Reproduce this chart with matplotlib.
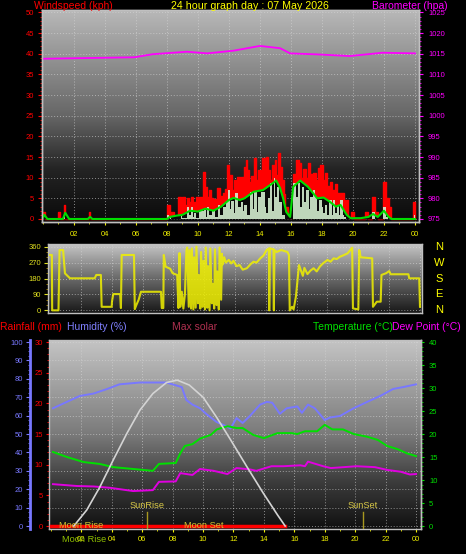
import numpy as np
import matplotlib
matplotlib.use('Agg')
import matplotlib.pyplot as plt
import matplotlib.transforms as mtransforms
from matplotlib.colors import LinearSegmentedColormap
from matplotlib.ticker import MultipleLocator

plt.rcParams['font.family'] = ['Liberation Sans', 'DejaVu Sans']

# ---------------- data ----------------
hour_ticks = [2, 4, 6, 8, 10, 12, 14, 16, 18, 20, 22, 24]
hour_labels = ['02', '04', '06', '08', '10', '12', '14', '16', '18', '20', '22', '00']

# wind gust (kph), step values: (start hour, value)
gust = [(0.0, 1.8), (0.15, 0), (1.0, 1.8), (1.1, 0), (1.35, 3.4), (1.45, 0), (2.95, 1.8), (3.05, 0),
        (8.0, 3.4), (8.2, 0.8), (8.3, 1.8), (8.45, 0.5), (8.7, 5.4), (8.9, 3.0), (9.0, 5.4), (9.15, 3.5),
        (9.3, 5.2), (9.45, 4.0), (9.55, 5.4), (9.7, 4.0), (9.9, 5.4), (10.0, 3.0), (10.1, 5.4), (10.25, 4.5),
        (10.35, 11.3), (10.45, 7.0), (10.5, 7.8), (10.6, 5.4), (10.7, 7.0), (10.85, 5.0), (11.0, 4.8),
        (11.15, 3.5), (11.25, 7.4), (11.45, 5.5), (11.6, 6.2), (11.75, 7.3), (11.9, 13.1), (12.0, 8.2),
        (12.1, 10.6), (12.2, 7.0), (12.3, 9.4), (12.45, 6.5), (12.55, 10.2), (12.7, 8.0), (12.8, 10.2),
        (12.95, 12.7), (13.1, 14.3), (13.2, 11.9), (13.3, 9.0), (13.45, 10.5), (13.6, 14.7), (13.75, 9.5),
        (13.85, 11.9), (14.05, 8.5), (14.15, 14.7), (14.3, 12.0), (14.4, 15.0), (14.5, 11.9), (14.65, 9.5),
        (14.8, 13.1), (14.95, 14.3), (15.05, 10.7), (15.2, 16.0), (15.3, 12.7), (15.4, 9.4), (15.55, 6.0),
        (15.65, 3.0), (15.8, 0.3), (16.15, 11.0), (16.3, 14.3), (16.5, 13.5), (16.65, 10.0), (16.8, 12.0),
        (16.95, 10.0), (17.1, 13.5), (17.25, 11.0), (17.4, 11.1), (17.6, 9.5), (17.75, 12.3), (17.9, 13.0),
        (18.05, 9.4), (18.2, 11.2), (18.35, 8.0), (18.45, 6.3), (18.55, 9.0), (18.65, 7.0), (18.85, 8.4),
        (19.0, 6.2), (19.4, 3.0), (19.5, 4.6), (19.7, 0.2), (19.9, 1.8), (20.1, 0), (20.8, 1.8), (21.0, 0),
        (21.2, 5.4), (21.4, 1.8), (21.6, 0), (21.95, 9.0), (22.15, 5.0), (22.3, 3.0), (22.45, 0),
        (23.9, 4.0), (24.0, 0)]

# wind speed (kph), step values
speed = [(0.0, 0), (1.35, 1.0), (1.45, 0), (8.0, 0.9), (8.15, 0), (8.2, 0.6), (8.3, 0), (8.9, 1.2),
         (9.0, 0.3), (9.3, 3.0), (9.45, 1.0), (9.55, 3.0), (9.7, 0.5), (9.75, 1.4), (9.9, 0.3), (10.1, 2.0),
         (10.4, 2.2), (10.5, 0.5), (10.6, 3.0), (10.75, 1.0), (10.9, 2.0), (11.1, 0.5), (11.3, 3.4),
         (11.45, 1.0), (11.6, 3.0), (11.8, 4.2), (11.95, 7.0), (12.05, 2.5), (12.15, 4.4), (12.3, 1.5),
         (12.4, 6.3), (12.6, 3.0), (12.75, 4.2), (12.9, 2.0), (13.0, 3.4), (13.2, 1.0), (13.35, 6.6),
         (13.55, 2.5), (13.65, 6.6), (13.8, 1.7), (13.9, 5.4), (14.05, 0.5), (14.1, 6.6), (14.3, 3.0),
         (14.4, 1.5), (14.5, 5.0), (14.65, 8.6), (14.8, 2.0), (14.9, 10.0), (15.0, 5.4), (15.1, 7.8),
         (15.25, 4.2), (15.45, 1.0), (15.6, 0), (16.15, 8.6), (16.35, 5.4), (16.45, 8.7), (16.6, 3.0),
         (16.7, 7.8), (16.85, 4.0), (16.95, 7.0), (17.15, 2.5), (17.25, 5.4), (17.45, 7.0), (17.55, 5.4),
         (17.7, 2.0), (17.8, 4.6), (18.0, 3.0), (18.1, 1.5), (18.2, 3.4), (18.35, 1.0), (18.45, 4.6),
         (18.65, 1.0), (18.7, 4.6), (18.85, 1.5), (18.95, 3.4), (19.1, 1.0), (19.15, 4.6), (19.35, 1.0),
         (19.45, 0.5), (19.55, 0), (21.25, 1.8), (21.4, 0), (21.95, 3.0), (22.15, 0.5), (22.25, 0),
         (23.95, 1.0), (24.0, 0)]

# average wind speed (kph)
avg_hours = [0, 0.1, 0.3, 1.3, 1.45, 1.7, 2.9, 3.05, 3.2, 8.0, 8.2, 8.6, 9.0, 9.5, 10.0, 10.5, 11.0,
             11.5, 12.0, 12.3, 12.7, 13.0, 13.6, 14.2, 14.8, 15.05, 15.3, 15.5, 15.7, 15.95, 16.15, 16.6,
             17.1, 17.7, 18.1, 18.5, 18.9, 19.2, 19.6, 19.85, 20.5, 21.0, 21.3, 21.6, 22.0, 22.3, 22.5, 24.0]
avg_speed = [0.3, 1.0, 0, 0, 1.5, 0, 0, 0.5, 0, 0, 0.5, 0.8, 1.0, 2.0, 1.8, 2.5, 2.0, 3.0, 4.6, 5.1,
             4.6, 5.0, 6.6, 7.0, 8.6, 9.3, 7.5, 5.0, 1.7, 0.5, 7.8, 9.3, 7.8, 5.0, 5.2, 4.2, 3.0, 3.4,
             1.0, 0.2, 0.2, 0.5, 1.2, 0.5, 2.0, 0.5, 0, 0]

# barometer (hPa)
baro_hours = [0.07, 5.9, 7.1, 9.3, 10.6, 12.3, 14.0, 15.3, 15.95, 17.7, 19.8, 21.9, 24.0]
baro = [1013.8, 1014.15, 1014.9, 1015.5, 1015.1, 1015.75, 1016.9, 1016.35, 1015.1, 1014.85,
        1014.45, 1015.25, 1015.1]

# wind direction (deg): (hour, direction)
wind_dir = [(0.0, 313), (0.12, 313), (0.14, 0), (0.55, 0), (0.62, 341), (0.85, 341), (0.97, 209),
            (1.3, 181), (2.9, 181), (3.0, 200), (3.3, 200), (3.35, 20), (4.0, 20), (4.02, 49),
            (4.1, 92), (4.55, 92), (4.6, 13), (4.65, 313), (5.45, 313), (5.5, 7), (5.6, 30), (5.75, 60),
            (5.9, 105), (7.2, 105), (7.25, 13), (7.35, 13), (7.38, 313), (7.5, 247), (7.8, 235),
            (7.95, 210), (8.25, 200), (8.33, 13), (8.4, 324), (8.45, 20), (8.55, 105), (8.65, 10),
            (8.75, 90), (8.85, 340), (8.9, 355), (9.0, 20), (9.05, 340), (9.15, 10), (9.2, 350),
            (9.3, 5), (9.35, 300), (9.45, 15), (9.5, 360), (9.6, 40), (9.65, 200), (9.75, 10),
            (9.8, 330), (9.9, 20), (9.95, 280), (10.05, 5), (10.1, 355), (10.2, 15), (10.25, 250),
            (10.35, 0), (10.4, 350), (10.5, 40), (10.55, 150), (10.65, 10), (10.7, 345), (10.8, 30),
            (10.85, 220), (10.95, 5), (11.0, 355), (11.1, 60), (11.15, 320), (11.2, 260),
            (11.3, 300), (11.4, 270), (11.6, 285), (11.75, 265), (11.9, 280), (12.1, 250), (12.3, 256),
            (12.5, 230), (12.77, 238), (13.0, 260), (13.2, 275), (13.4, 270), (13.64, 294),
            (13.85, 310), (14.05, 341), (14.2, 350), (14.22, 0), (14.26, 350), (14.5, 345), (14.52, 0),
            (14.56, 340), (14.7, 330), (15.0, 341), (15.4, 330), (15.5, 313), (15.55, 0), (15.7, 20),
            (15.8, 5), (15.95, 77), (16.15, 256), (16.3, 220), (16.4, 195), (16.5, 240), (16.7, 205),
            (16.9, 225), (17.1, 238), (17.3, 220), (17.5, 247), (17.7, 265), (18.0, 285), (18.2, 275),
            (18.4, 294), (18.6, 290), (18.8, 303), (19.0, 310), (19.3, 322), (19.6, 354), (19.65, 11),
            (20.0, 5), (20.06, 341), (20.15, 300), (20.9, 294), (20.95, 20), (21.2, 49), (21.45, 49),
            (21.5, 200), (21.8, 210), (22.0, 222), (22.1, 204), (23.25, 204), (23.3, 181),
            (23.95, 181), (24.0, 20)]
compass = ['N', 'W', 'S', 'E', 'N']
compass_deg = [360, 270, 180, 90, 0]

# rainfall (mm)
rain_hours = [0.0, 15.4]
rain = [0.0, 0.0]

# max solar (W/m2)
solar_hours = [1.5, 2.35, 3.2, 4.1, 5.0, 5.85, 6.7, 7.6, 8.3, 9.1, 10.0, 10.9, 11.8, 12.9, 13.95, 14.9, 15.4]
max_solar = [0, 87, 210, 360, 505, 630, 720, 780, 793, 766, 700, 590, 470, 320, 180, 60, 0]

# humidity (%)
hum_hours = [0.13, 1.05, 1.9, 2.8, 3.7, 4.5, 5.85, 7.6, 8.0, 8.6, 8.9, 9.3, 9.8, 10.2, 10.9, 11.6,
             11.8, 12.2, 12.6, 13.1, 13.75, 14.2, 14.55, 15.05, 15.5, 16.2, 16.5, 16.9, 17.35, 18.0,
             18.35, 19.0, 19.9, 20.8, 21.65, 22.5, 23.15, 24.0]
humidity = [64, 67.5, 70.7, 72, 74.5, 77, 78, 78, 77, 75.5, 68.5, 66, 64, 61, 56.5, 54, 53, 58.7, 56,
            60, 66, 67.5, 67, 61, 64, 65, 61.5, 66, 64, 57.6, 59, 59.8, 64, 67.5, 70.7, 74.5, 75.5, 77]

# temperature (C)
temp_hours = [0.13, 1.05, 2.15, 3.2, 4.1, 5.4, 6.7, 7.1, 8.2, 8.5, 8.8, 9.3, 9.8, 10.5, 10.9, 11.6,
              12.2, 12.6, 13.3, 14.0, 14.9, 15.8, 16.2, 16.7, 17.5, 18.0, 18.5, 19.2, 19.9, 20.8, 21.5,
              22.1, 22.8, 23.4, 24.0]
temperature = [16.1, 15, 13.9, 13.5, 12.8, 12.4, 12, 13.5, 13.7, 15.8, 17.4, 17.8, 19, 19.8, 21, 21.7,
               21.3, 21.3, 19.8, 19.1, 20.2, 20.2, 20, 20.6, 20.6, 22, 21, 21, 20, 19.4, 18.7, 17.4,
               16.7, 15.8, 15.2]

# dew point (C)
dew_hours = [0.13, 1.7, 2.8, 3.9, 5.4, 6.7, 7.1, 8.2, 8.5, 9.3, 9.8, 10.7, 11.6, 12.2, 13.1, 13.5,
             14.5, 15.3, 16.4, 16.7, 16.9, 17.9, 18.4, 20.1, 21.3, 22.1, 23.0, 23.6, 24.0]
dew_point = [9.1, 8.7, 8.6, 8.3, 7.6, 7.8, 9.6, 9.7, 11.5, 11.1, 12.4, 12, 11.3, 12.6, 12.3, 12, 13,
             13, 13.2, 13, 14, 13, 12.6, 13, 12.8, 12.2, 11.8, 11.2, 11.3]

# sun / moon events (hour)
sunrise, sunset = 6.3, 20.5
moonrise, moonset = 0.55, 8.75

# ---------------- figure ----------------
W, H = 466, 554
fig = plt.figure(figsize=(W / 100, H / 100), dpi=100, facecolor='black')


def box(left, top, right, bottom):
    return [left / W, 1 - bottom / H, (right - left) / W, (bottom - top) / H]


def shade(ax, stops):
    cmap = LinearSegmentedColormap.from_list('bg', stops)
    ax.imshow(np.linspace(0, 1, 256).reshape(-1, 1), cmap=cmap, origin='lower',
              extent=(0, 1, 0, 1), transform=ax.transAxes, aspect='auto', zorder=0)


def spines(ax, color='#c0c0c0', hide=()):
    for k, s in ax.spines.items():
        s.set_color(color)
        s.set_linewidth(1)
        if k in hide:
            s.set_visible(False)


def grid(ax):
    ax.set_axisbelow(True)
    ax.grid(True, which='major', color='#d8d8d8', linestyle=(0, (1, 2)), linewidth=0.7, alpha=0.6)


YEL = '#f0f000'
small = 5.5

# ---- panel 1 : wind + barometer ----
ax1 = fig.add_axes(box(42, 10, 419, 222))
shade(ax1, [(0, '#0a0a0a'), (0.25, '#242424'), (0.5, '#666666'), (1, '#b8b8b8')])
gh, gv = zip(*gust)
sh, sv = zip(*speed)
ax1.fill_between(gh, gv, step='post', color='#ff0000', lw=0, zorder=2)
ax1.step(gh, gv, where='post', color='#ff0000', lw=1, zorder=2)
ax1.fill_between(avg_hours, avg_speed, color='#0a0a0a', lw=0, zorder=2.5)
ax1.fill_between(sh, sv, step='post', color='#d4eed0', lw=0, alpha=0.9, zorder=3)
ax1.plot(avg_hours, avg_speed, color='#00dd00', lw=1.5, zorder=4)
ax1.set_xlim(-0.05, 24.26)
ax1.set_ylim(-0.73, 50.6)
ax1.xaxis.set_major_locator(plt.FixedLocator(hour_ticks))
ax1.set_xticklabels(hour_labels)
ax1.xaxis.set_minor_locator(MultipleLocator(1))
ax1.yaxis.set_major_locator(MultipleLocator(5))
ax1.yaxis.set_minor_locator(MultipleLocator(1))
ax1.tick_params(axis='x', which='both', colors=YEL, labelsize=small, length=2.2, pad=4.3)
ax1.tick_params(axis='x', which='minor', length=1.2)
ax1.tick_params(axis='y', which='both', colors='#ff0000', labelsize=small, length=2.9, pad=2.9)
ax1.tick_params(axis='y', which='minor', length=1.5)
grid(ax1)
spines(ax1)

axb = ax1.twinx()
axb.plot(baro_hours, baro, color='#ff00ff', lw=1.3)
axb.set_ylim(975 - 0.73, 975 + 50.6)
axb.yaxis.set_major_locator(MultipleLocator(5))
axb.yaxis.set_minor_locator(MultipleLocator(1))
axb.tick_params(axis='y', which='both', colors='#ff00ff', labelsize=small, length=2.9, pad=3.6)
axb.tick_params(axis='y', which='minor', length=1.5)
spines(axb)

fig.text(34 / W, 1 - 6 / H, 'Windspeed (kph)', color='#ff0000', fontsize=7.5, ha='left', va='center')
fig.text(250 / W, 1 - 6 / H, '24 hour graph day : 07 May 2026', color='#ffff00', fontsize=7.7,
         ha='center', va='center')
fig.text(372 / W, 1 - 6 / H, 'Barometer (hpa)', color='#ff00ff', fontsize=7.5, ha='left', va='center')

# ---- panel 2 : wind direction ----
ax2 = fig.add_axes(box(48, 244, 422, 313))
shade(ax2, [(0, '#181818'), (0.5, '#6a6a6a'), (1, '#c8c8c8')])
dh, dv = zip(*wind_dir)
ax2.plot(dh, dv, color=YEL, lw=1.5, alpha=0.85, zorder=3)
ax2.set_xlim(-0.13, 24.13)
ax2.set_ylim(-15, 375)
ax2.xaxis.set_major_locator(plt.FixedLocator(hour_ticks))
ax2.set_xticklabels([])
ax2.tick_params(axis='x', length=0)
ax2.yaxis.set_major_locator(MultipleLocator(90))
ax2.yaxis.set_minor_locator(MultipleLocator(30))
ax2.tick_params(axis='y', which='both', colors='#e0e020', labelsize=small, length=2.9, pad=2)
ax2.tick_params(axis='y', which='minor', colors='#b09000', length=1.8)
grid(ax2)
spines(ax2)
t2 = mtransforms.blended_transform_factory(ax2.transAxes, ax2.transData)
for lab, d in zip(compass, compass_deg):
    ax2.text(1.045, d, lab, transform=t2, color='#ffff00', fontsize=8, ha='center', va='center')

# ---- panel 3 : rain / humidity / solar / temperature ----
ax3 = fig.add_axes(box(49, 340, 421, 529))
shade(ax3, [(0, '#101010'), (0.25, '#3c3c3c'), (0.5, '#7a7a7a'), (1, '#c4c4c4')])
ax3.plot(hum_hours, humidity, color='#7878ff', lw=1.4, zorder=3)
ax3.set_xlim(-0.13, 24.33)
ax3.set_ylim(-1.6, 101.1)
ax3.xaxis.set_major_locator(plt.FixedLocator(hour_ticks))
ax3.set_xticklabels(hour_labels)
ax3.xaxis.set_minor_locator(MultipleLocator(1))
ax3.tick_params(axis='x', which='both', colors=YEL, labelsize=small, length=2.2, pad=2.9)
ax3.tick_params(axis='x', which='minor', length=1.2)
ax3.yaxis.set_major_locator(MultipleLocator(10))
ax3.yaxis.set_minor_locator(MultipleLocator(2.5))
ax3.tick_params(axis='y', which='both', colors='#7878ff', labelsize=small, length=2.9, pad=2.2)
ax3.tick_params(axis='y', which='minor', length=1.5)
grid(ax3)
spines(ax3)
ax3.spines['left'].set_position(('outward', 13.7))
ax3.spines['left'].set_color('#7878ff')
ax3.spines['left'].set_linewidth(2)

ax_r = ax3.twinx()
ax_r.plot(rain_hours, rain, color='#ff0000', lw=2.5, zorder=3)
ax_r.set_ylim(-0.48, 30.33)
ax_r.yaxis.set_ticks_position('left')
ax_r.yaxis.set_label_position('left')
ax_r.yaxis.set_major_locator(MultipleLocator(5))
ax_r.yaxis.set_minor_locator(MultipleLocator(1))
ax_r.tick_params(axis='y', which='both', colors='#ff0000', labelsize=small, length=2.2, pad=2.2)
ax_r.tick_params(axis='y', which='minor', length=1.5)
spines(ax_r, hide=('top', 'bottom', 'right'))

ax_t = ax3.twinx()
ax_t.plot(temp_hours, temperature, color='#00e000', lw=1.4, zorder=3)
ax_t.plot(dew_hours, dew_point, color='#e000e0', lw=1.4, zorder=3)
ax_t.set_ylim(-0.65, 40.44)
ax_t.yaxis.set_major_locator(MultipleLocator(5))
ax_t.yaxis.set_minor_locator(MultipleLocator(1))
ax_t.tick_params(axis='y', which='both', colors='#00e000', labelsize=small, length=2.2, pad=3.6)
ax_t.tick_params(axis='y', which='minor', length=1.5)
spines(ax_t, hide=('top', 'bottom', 'left'))

ax_s = ax3.twinx()
ax_s.plot(solar_hours, max_solar, color='#d4d4d4', lw=1.2, zorder=2)
ax_s.set_ylim(-16, 1011)
ax_s.set_yticks([])
for s in ax_s.spines.values():
    s.set_visible(False)

ts = mtransforms.blended_transform_factory(ax_s.transData, ax_s.transAxes)
for h, lab in [(sunrise, 'SunRise'), (sunset, 'SunSet')]:
    ax_s.axvline(h, ymin=0, ymax=0.09, color='#a89820', lw=1)
    ax_s.text(h, 0.122, lab, transform=ts, color='#d8c848', fontsize=6.7, ha='center', va='center')
for h, lab in [(moonrise, 'Moon Rise'), (moonset, 'Moon Set')]:
    ax_s.text(h, 0.016, lab, transform=ts, color='#d0c430', fontsize=6.7, ha='left', va='center')
ax_s.text(moonrise + 0.17, -0.058, 'Moon Rise', transform=ts, color='#90c000', fontsize=6.7,
          ha='left', va='center', clip_on=False)

ylab = 1 - 327 / H
fig.text(0 / W, ylab, 'Rainfall (mm)', color='#ff0000', fontsize=7.5, ha='left', va='center')
fig.text(67 / W, ylab, 'Humidity (%)', color='#8080ff', fontsize=7.5, ha='left', va='center')
fig.text(172 / W, ylab, 'Max solar', color='#b03050', fontsize=7.5, ha='left', va='center')
fig.text(313 / W, ylab, 'Temperature (°C)', color='#00e000', fontsize=7.5, ha='left', va='center')
fig.text(392 / W, ylab, 'Dew Point (°C)', color='#ff00ff', fontsize=7.5, ha='left', va='center')

fig.savefig('out.png', dpi=100, facecolor='black')
